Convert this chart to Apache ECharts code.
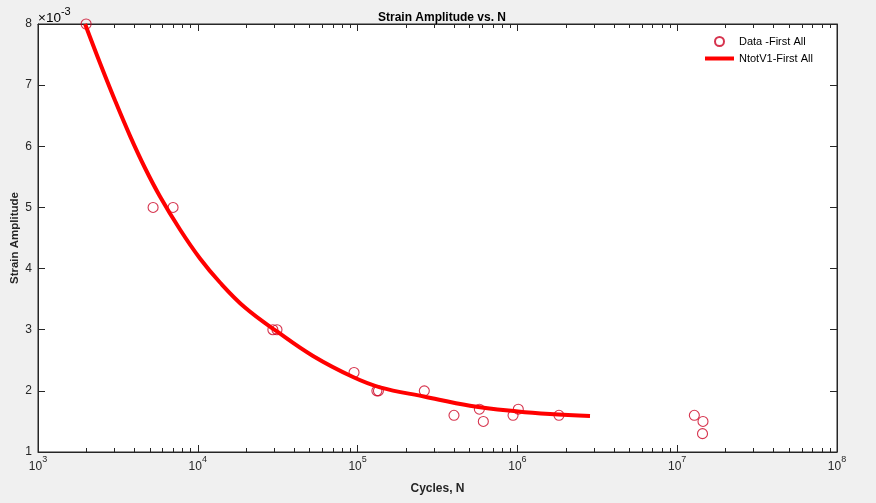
<!DOCTYPE html>
<html><head><meta charset="utf-8">
<script src="https://cdn.jsdelivr.net/npm/echarts@6/dist/echarts.min.js"></script>
<style>html,body{margin:0;padding:0;background:#f0f0f0}#c{width:876px;height:503px}</style>
</head><body><div id="c"></div>
<script>
// ---- data ----
const chartTitle = 'Strain Amplitude vs. N';
const xName = 'Cycles, N';
const yName = 'Strain Amplitude';
const seriesNames = ['Data -First All', 'NtotV1-First All'];

const dataCycles = [2000, 5250, 7000, 29500, 31300, 95000, 132000, 135000, 261500, 401000, 578000, 612000, 939000, 1013000, 1820000, 12800000, 14500000, 14400000];
const dataStrain = [0.0080, 0.0050, 0.0050, 0.0030, 0.0030, 0.0023, 0.0020, 0.0020, 0.0020, 0.0016, 0.0017, 0.0015, 0.0016, 0.0017, 0.0016, 0.0016, 0.0015, 0.0013];

const fitCycles = [1970, 2443, 3033, 3765, 4673, 5800, 7737, 10320, 13770, 19740, 31300, 52600, 93600, 138100, 260300, 505000, 1009000, 1600000, 2847000];
const fitStrain = [0.008000, 0.007362, 0.006749, 0.006171, 0.005645, 0.005179, 0.004639, 0.004165, 0.003772, 0.003363, 0.002971, 0.002570, 0.002226, 0.002058, 0.001907, 0.001757, 0.001662, 0.001620, 0.001587];

const xTickExponents = [3, 4, 5, 6, 7, 8];
const yTickLabels = [1, 2, 3, 4, 5, 6, 7, 8];
const yScaleLabel = ['×10', '-3'];
const minorMultipliers = [2, 3, 4, 5, 6, 7, 8, 9];

// ---- build ----
const FONT = '"Liberation Sans", Arial, Helvetica, sans-serif';
const AX = '#262626';
const MARK = '#cc0022';
const xMin = Math.pow(10, xTickExponents[0]);
const xMax = Math.pow(10, xTickExponents[xTickExponents.length - 1]);
const yMin = yTickLabels[0] / 1000;
const yMax = yTickLabels[yTickLabels.length - 1] / 1000;

const minorTicks = [];
xTickExponents.slice(0, -1).forEach(e => minorMultipliers.forEach(m => minorTicks.push([m * Math.pow(10, e), yMin])));

const scatterData = dataCycles.map((c, i) => [c, dataStrain[i]]);
const fitData = fitCycles.map((c, i) => [c, fitStrain[i]]);

const supRich = {
  b: { fontSize: 12, fontFamily: FONT, color: AX, verticalAlign: 'bottom', lineHeight: 18 },
  s: { fontSize: 9, fontFamily: FONT, color: AX, verticalAlign: 'top', lineHeight: 18 }
};
const scaleRich = {
  b: { fontSize: 13.5, fontFamily: FONT, color: AX, verticalAlign: 'bottom', lineHeight: 19 },
  s: { fontSize: 11, fontFamily: FONT, color: AX, verticalAlign: 'top', lineHeight: 19 }
};

const chart = echarts.init(document.getElementById('c'), null, { renderer: 'canvas' });
chart.setOption({
  animation: false,
  backgroundColor: '#f0f0f0',
  textStyle: { fontFamily: FONT },
  title: {
    text: chartTitle, left: 437, top: 7, textAlign: 'center',
    textStyle: { fontSize: 12, fontWeight: 'bold', color: '#000', fontFamily: FONT }
  },
  graphic: [{
    type: 'text', left: 38, top: 6,
    style: { text: '{b|' + yScaleLabel[0] + '}{s|' + yScaleLabel[1] + '}', rich: scaleRich }
  }],
  legend: {
    orient: 'vertical', left: 700, top: 31, itemWidth: 29, itemHeight: 9, itemGap: 6,
    textStyle: { fontSize: 11, color: '#000', fontFamily: FONT },
    data: [
      { name: seriesNames[0] },
      { name: seriesNames[1], icon: 'path://M0,0 L29,0 L29,4 L0,4 Z', itemStyle: { color: '#ff0000' } }
    ]
  },
  grid: { left: 38, right: 39, top: 24, bottom: 51, containLabel: false, outerBoundsMode: 'none',
    show: true, backgroundColor: '#fff', borderColor: AX, borderWidth: 1 },
  xAxis: [{
    type: 'log', logBase: 10, min: xMin, max: xMax, splitNumber: 5,
    name: xName, nameLocation: 'middle', nameGap: 31, nameMoveOverlap: false,
    nameTextStyle: { fontSize: 12, fontWeight: 'bold', color: AX, fontFamily: FONT },
    axisLine: { lineStyle: { color: AX } },
    axisTick: { inside: true, length: 7, lineStyle: { color: AX } },
    splitLine: { show: false },
    axisLabel: {
      margin: 3, showMinLabel: true, showMaxLabel: true,
      formatter: v => '{b|10}{s|' + Math.round(Math.log10(v)) + '}',
      rich: supRich
    }
  }, {
    type: 'log', logBase: 10, min: xMin, max: xMax, splitNumber: 5, position: 'top',
    axisLine: { lineStyle: { color: AX } },
    axisTick: { inside: true, length: 7, lineStyle: { color: AX } },
    axisLabel: { show: false }, splitLine: { show: false }
  }],
  yAxis: [{
    type: 'value', min: yMin, max: yMax, interval: 0.001,
    name: yName, nameLocation: 'middle', nameGap: 17, nameRotate: 90, nameMoveOverlap: false,
    nameTextStyle: { fontSize: 11.5, fontWeight: 'bold', color: AX, fontFamily: FONT },
    axisLine: { show: true, lineStyle: { color: AX } },
    axisTick: { show: true, inside: true, length: 7, lineStyle: { color: AX } },
    splitLine: { show: false },
    axisLabel: { margin: 6, fontSize: 12, color: AX, fontFamily: FONT, formatter: v => String(Math.round(v * 1000)) }
  }, {
    type: 'value', min: yMin, max: yMax, interval: 0.001, position: 'right',
    axisLine: { show: true, lineStyle: { color: AX } },
    axisTick: { show: true, inside: true, length: 7, lineStyle: { color: AX } },
    axisLabel: { show: false }, splitLine: { show: false }
  }],
  series: [{
    type: 'custom', name: 'minor', silent: true, data: minorTicks,
    encode: { x: 0, y: 1 }, clip: false, z: 1,
    renderItem: (params, api) => {
      const x = api.value(0);
      const pb = api.coord([x, yMin]);
      const pt = api.coord([x, yMax]);
      const st = { stroke: AX, lineWidth: 1 };
      const xx = Math.round(pb[0]) + 0.5;
      return { type: 'group', children: [
        { type: 'line', shape: { x1: xx, y1: pb[1], x2: xx, y2: pb[1] - 4 }, style: st },
        { type: 'line', shape: { x1: xx, y1: pt[1], x2: xx, y2: pt[1] + 4 }, style: st }
      ]};
    }
  }, {
    type: 'scatter', name: seriesNames[0], data: scatterData,
    symbol: 'circle', symbolSize: 10, z: 2,
    itemStyle: { color: 'rgba(255,255,255,0)', borderColor: MARK, borderWidth: 1.1 }
  }, {
    type: 'line', name: seriesNames[1], data: fitData, smooth: 0.4,
    showSymbol: false, symbol: 'none', z: 3,
    lineStyle: { color: '#ff0000', width: 4 }, itemStyle: { color: '#ff0000' }
  }]
});
</script>
</body></html>
